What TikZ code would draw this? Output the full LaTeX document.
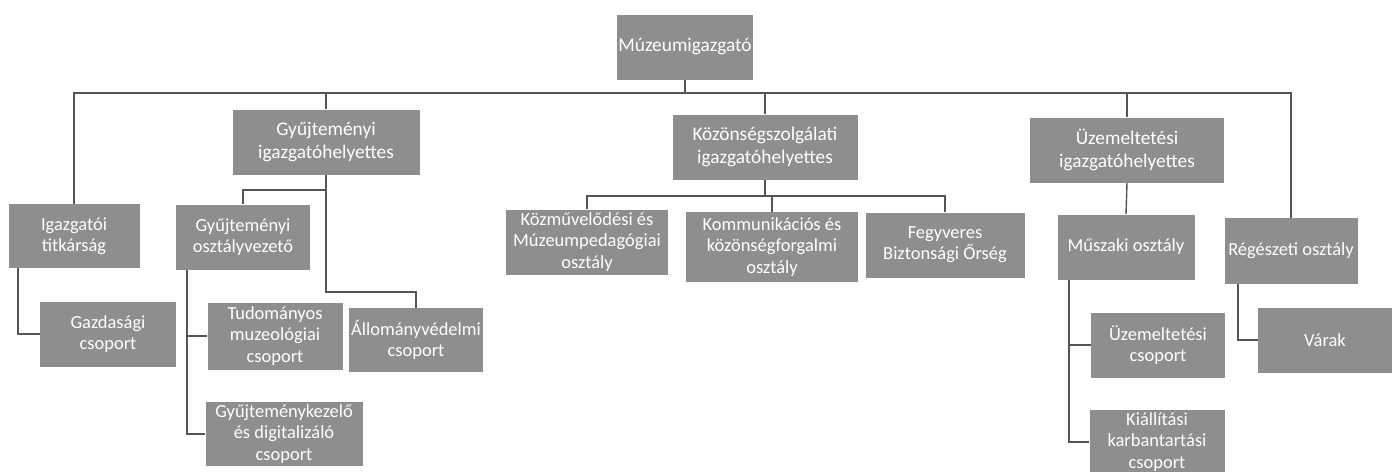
\documentclass[tikz,border=0pt]{standalone}
\usepackage{fontspec}
\setmainfont{Carlito}
\definecolor{boxgray}{RGB}{142,142,142}
\definecolor{linegray}{RGB}{85,85,85}
\begin{document}
\begin{tikzpicture}[x=0.2mm,y=-0.2mm,
    unit/.style={fill=boxgray,text=white,align=center,inner sep=1pt,
      font=\fontsize{10.5}{12}\selectfont},
    head/.style={unit,font=\fontsize{11}{13.5}\selectfont},
    link/.style={draw=linegray,line width=0.8pt}]
  \useasboundingbox (0,0) rectangle (1396,471);
  % top and second level
  \node[head,minimum width=126*0.2mm,minimum height=65*0.2mm] (dir) at (685,47) {Múzeumigazgató};
  \node[head,minimum width=187*0.2mm,minimum height=65*0.2mm] (gyuj) at (326,142) {Gyűjteményi\\igazgatóhelyettes};
  \node[head,minimum width=185*0.2mm,minimum height=65*0.2mm] (kozon) at (765,147) {Közönségszolgálati\\igazgatóhelyettes};
  \node[head,minimum width=194*0.2mm,minimum height=65*0.2mm] (uzem) at (1127,150) {Üzemeltetési\\igazgatóhelyettes};
  % departments
  \node[unit,minimum width=131*0.2mm,minimum height=64*0.2mm] (titk) at (74,236) {Igazgatói\\titkárság};
  \node[unit,minimum width=134*0.2mm,minimum height=65*0.2mm] (ovez) at (243,237) {Gyűjteményi\\osztályvezető};
  \node[unit,minimum width=162*0.2mm,minimum height=65*0.2mm] (kozmuv) at (587,242) {Közművelődési és\\Múzeumpedagógiai\\osztály};
  \node[unit,minimum width=172*0.2mm,minimum height=70*0.2mm] (komm) at (772,247) {Kommunikációs és\\közönségforgalmi\\osztály};
  \node[unit,minimum width=159*0.2mm,minimum height=65*0.2mm] (fegyv) at (945,245) {Fegyveres\\Biztonsági Őrség};
  \node[unit,minimum width=137*0.2mm,minimum height=65*0.2mm] (musz) at (1126,247) {Műszaki osztály};
  \node[unit,minimum width=133*0.2mm,minimum height=66*0.2mm] (reg) at (1291,251) {Régészeti osztály};
  % groups
  \node[unit,minimum width=136*0.2mm,minimum height=65*0.2mm] (gazd) at (108,334) {Gazdasági\\csoport};
  \node[unit,minimum width=135*0.2mm,minimum height=67*0.2mm] (tud) at (275,336) {Tudományos\\muzeológiai\\csoport};
  \node[unit,minimum width=133*0.2mm,minimum height=64*0.2mm] (allom) at (416,340) {Állományvédelmi\\csoport};
  \node[unit,minimum width=157*0.2mm,minimum height=64*0.2mm] (gykez) at (284,434) {Gyűjteménykezelő\\és digitalizáló\\csoport};
  \node[unit,minimum width=134*0.2mm,minimum height=65*0.2mm] (uzcs) at (1158,345) {Üzemeltetési\\csoport};
  \node[unit,minimum width=135*0.2mm,minimum height=64*0.2mm] (kiall) at (1157,442) {Kiállítási\\karbantartási\\csoport};
  \node[unit,minimum width=134*0.2mm,minimum height=65*0.2mm] (varak) at (1325,340) {Várak};
  % connectors
  \coordinate (bus) at (685,93);
  \draw[link] (dir) -- (bus);
  \draw[link] (titk.north) -- (titk.north |- bus) -- (reg.north |- bus) -- (reg.north);
  \foreach \n in {gyuj,kozon,uzem}
    \draw[link] (\n.north) -- (\n.north |- bus);
  \coordinate (gjoint) at (326,190);
  \coordinate (gdown) at (326,292);
  \draw[link] (gyuj.south) -- (gdown) -| (allom.north);
  \draw[link] (gjoint) -| (ovez.north);
  \coordinate (tleft) at (18,268);
  \draw[link] (tleft) |- (gazd.west);
  \coordinate (oleft) at (187,270);
  \draw[link] (oleft) |- (gykez.west);
  \draw[link] (oleft |- tud.west) -- (tud.west);
  \coordinate (kbus) at (765,196);
  \draw[link] (kozon.south) -- (kbus);
  \draw[link] (kozmuv.north) |- (kbus) -| (fegyv.north);
  \draw[link] (komm.north) -- (komm.north |- kbus);
  \draw[link] (uzem.south) -- (musz.north);
  \coordinate (mleft) at (1069,280);
  \draw[link] (mleft) |- (kiall.west);
  \draw[link] (mleft |- uzcs.west) -- (uzcs.west);
  \coordinate (rleft) at (1238,284);
  \draw[link] (rleft) |- (varak.west);
\end{tikzpicture}
\end{document}
